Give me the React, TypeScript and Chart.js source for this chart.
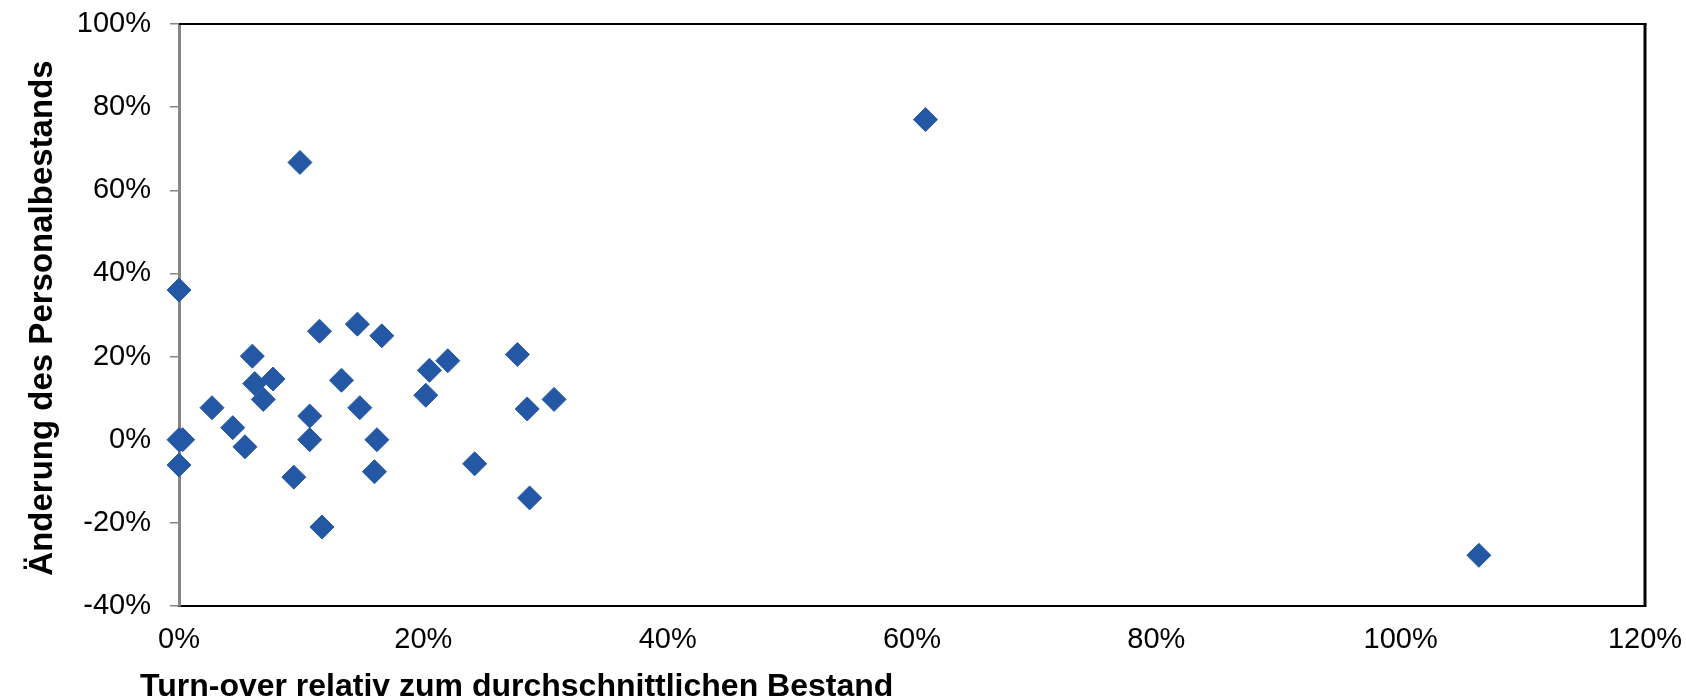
import React, { useEffect, useRef } from "react";
import { Chart, registerables } from "chart.js";

Chart.register(...registerables);

const turnoverPct: number[] = [
  0, 11.5, 14.6, 16.6, 6.0, 27.7, 22.0, 20.5, 13.3, 7.7, 6.2, 6.9, 2.7, 20.2, 14.8, 10.7,
  28.5, 30.7, 4.4, 0, 0.3, 5.4, 10.7, 16.2, 0, 9.4, 16.0, 24.2, 28.7, 11.7, 9.9, 61.1, 106.4,
];
const changePct: number[] = [
  36.0, 26.1, 27.8, 25.0, 20.1, 20.5, 19.0, 16.7, 14.3, 14.6, 13.5, 9.7, 7.7, 10.7, 7.7, 5.7,
  7.4, 9.7, 2.9, 0, 0, -1.7, 0, 0, -6.1, -9.0, -7.7, -5.8, -14.0, -21.0, 66.7, 77.0, -27.8,
];
const xTicks: number[] = [0, 20, 40, 60, 80, 100, 120];
const yTicks: number[] = [-40, -20, 0, 20, 40, 60, 80, 100];
const xTitle = "Turn-over relativ zum durchschnittlichen Bestand";
const yTitle = "Änderung des Personalbestands";

const FONT = "'Liberation Sans', Arial, sans-serif";

const frameAndTitles = {
  id: "frameAndTitles",
  beforeDatasetsDraw(chart: any) {
    const { ctx, chartArea } = chart;
    ctx.save();
    ctx.strokeStyle = "#000000";
    ctx.lineWidth = 2;
    ctx.beginPath();
    ctx.moveTo(chartArea.left, chartArea.top);
    ctx.lineTo(chartArea.right + 1.5, chartArea.top);
    ctx.stroke();
    ctx.lineWidth = 3;
    ctx.beginPath();
    ctx.moveTo(chartArea.right, chartArea.top - 1);
    ctx.lineTo(chartArea.right, chartArea.bottom + 1);
    ctx.stroke();
    ctx.restore();
  },
  afterDraw(chart: any) {
    const { ctx, chartArea } = chart;
    ctx.save();
    ctx.fillStyle = "#000000";
    ctx.font = `bold 32px ${FONT}`;
    ctx.textAlign = "left";
    ctx.textBaseline = "alphabetic";
    ctx.fillText(xTitle, chartArea.left - 39, 696);
    ctx.font = `bold 33px ${FONT}`;
    ctx.translate(52, (chartArea.top + chartArea.bottom) / 2 + 3);
    ctx.rotate(-Math.PI / 2);
    ctx.textAlign = "center";
    ctx.fillText(yTitle, 0, 0);
    ctx.restore();
  },
};

export default function App() {
  const ref = useRef<HTMLCanvasElement | null>(null);

  useEffect(() => {
    document.body.style.margin = "0";
    if (!ref.current) return;
    const points = turnoverPct.map((x, i) => ({ x, y: changePct[i] }));
    const chart = new Chart(ref.current, {
      type: "scatter",
      data: {
        datasets: [
          {
            data: points,
            pointStyle: "rectRot",
            pointRadius: 12,
            pointHoverRadius: 12,
            backgroundColor: "#2457A4",
            borderColor: "#2457A4",
            borderWidth: 1,
            clip: false as any,
          },
        ],
      },
      options: {
        animation: false,
        responsive: true,
        maintainAspectRatio: false,
        events: [],
        layout: { padding: { top: 24, right: 41, left: 0, bottom: 0 } },
        plugins: {
          legend: { display: false },
          tooltip: { enabled: false },
        },
        scales: {
          x: {
            type: "linear",
            min: 0,
            max: 120,
            afterFit(scale: any) {
              scale.height = 92;
              scale.paddingLeft = 0;
              scale.paddingRight = 0;
              scale.paddingTop = 0;
              scale.paddingBottom = 0;
            },
            afterBuildTicks(scale: any) {
              scale.ticks = xTicks.map((v) => ({ value: v }));
            },
            grid: { display: false, drawTicks: false },
            border: { display: true, color: "#000000", width: 2 },
            ticks: {
              padding: 17,
              color: "#000000",
              font: { family: FONT, size: 29 },
              maxRotation: 0,
              autoSkip: false,
              callback: (v: any) => `${v}%`,
            },
          },
          y: {
            type: "linear",
            min: -40,
            max: 100,
            afterFit(scale: any) {
              scale.width = 179;
              scale.paddingLeft = 0;
              scale.paddingRight = 0;
              scale.paddingTop = 0;
              scale.paddingBottom = 0;
            },
            afterBuildTicks(scale: any) {
              scale.ticks = yTicks.map((v) => ({ value: v }));
            },
            grid: {
              display: true,
              drawOnChartArea: false,
              drawTicks: true,
              tickLength: 9,
              color: "#868686",
              lineWidth: 1.5,
            },
            border: { display: true, color: "#868686", width: 3 },
            ticks: {
              padding: 19,
              color: "#000000",
              font: { family: FONT, size: 29 },
              autoSkip: false,
              callback: (v: any) => `${v}%`,
            },
          },
        },
      },
      plugins: [frameAndTitles],
    });
    return () => chart.destroy();
  }, []);

  return (
    <div style={{ position: "absolute", left: 0, top: 0, width: 1686, height: 698, background: "#ffffff" }}>
      <canvas ref={ref} />
    </div>
  );
}
